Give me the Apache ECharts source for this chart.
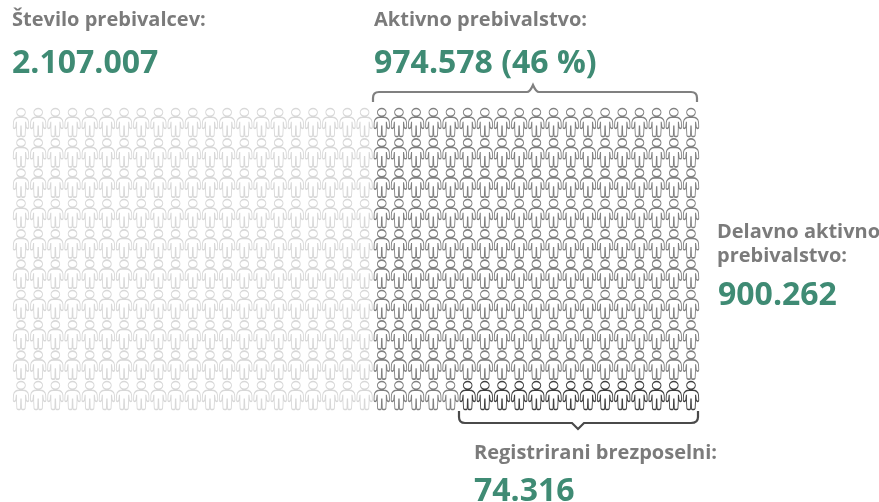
<!DOCTYPE html>
<html><head><meta charset="utf-8">
<style>html,body{margin:0;background:#fff}#c{width:879px;height:502px}</style>
<script src="https://cdn.jsdelivr.net/npm/echarts@6/dist/echarts.min.js"></script>
</head><body><div id="c"></div>
<script>
const columnCount = 40;
const rowCount = 10;
const inactiveColumns = 21;
const unemployedCells = 14;
const labels = ['Število prebivalcev:', 'Aktivno prebivalstvo:', 'Delavno aktivno', 'prebivalstvo:', 'Registrirani brezposelni:'];
const values = ['2.107.007', '974.578 (46 %)', '900.262', '74.316'];

const inactive = [], employed = [], unemployed = [];
for (let c = 0; c < columnCount; c++) {
  for (let r = 0; r < rowCount; r++) {
    if (c < inactiveColumns) inactive.push([c, r]);
    else if (r === 0 && c >= columnCount - unemployedCells) unemployed.push([c, r]);
    else employed.push([c, r]);
  }
}
const person = 'path://M16 0C21 0 25 3.500 25 8C25 12.500 21 16 16 16C11 16 7 12.500 7 8C7 3.500 11 0 16 0ZM12 18H20C26 18 31 22 31.500 28L32 39C32 42 27.500 42 27 39L25.800 29H25.300V40L24.500 56Q24 58 22 58H18.500Q17 58 17 56L16.500 37H15.500L15 56Q15 58 13.500 58H10Q8 58 7.500 56L6.700 40V29H6.200L5 39C4.500 42 0 42 0 39L.5 28C1 22 6 18 12 18Z';
const series = (data, color) => ({
  type: 'scatter', data, symbol: person, symbolSize: [15.5, 28], silent: true,
  itemStyle: { color: '#fff', borderColor: color, borderWidth: 1.2, opacity: 1 }
});
const label = (x, y, text) => ({ type: 'text', left: x, top: y, silent: true,
  style: { text, fill: '#7b7b7b', font: 'bold 20px "Open Sans"' } });
const value = (x, y, text) => ({ type: 'text', left: x, top: y, silent: true,
  style: { text, fill: '#3f8b74', font: 'bold 32px "Open Sans"' } });
echarts.graphic.registerShape('bracketTop', echarts.graphic.extendPath('M373 102V98Q373 92 379 92H527Q530 92 533 85Q536 92 539 92H691Q697 92 697 98V102', {}));
echarts.graphic.registerShape('bracketBottom', echarts.graphic.extendPath('M459 411V417Q459 423 465 423H572L578 429L584 423H691Q698 423 698 417V411', {}));
const bracket = (type, stroke) => ({ type, silent: true, style: { fill: 'none', stroke, lineWidth: 2.2 } });

const chart = echarts.init(document.getElementById('c'), null, { renderer: 'canvas' });
chart.setOption({
  animation: false, backgroundColor: '#fff',
  grid: { left: 21, right: 188, top: 122.5, bottom: 106.5 },
  xAxis: { type: 'value', min: 0, max: columnCount - 1, show: false },
  yAxis: { type: 'value', min: 0, max: rowCount - 1, show: false },
  series: [series(inactive, '#d8d8d8'), series(employed, '#808080'), series(unemployed, '#3f3f3f')],
  graphic: [
    label(12, 10, labels[0]), value(12, 48, values[0]),
    label(374, 10, labels[1]), value(374, 48, values[1]),
    label(717, 222, labels[2]), label(717, 246, labels[3]), value(718, 280, values[2]),
    label(474, 443, labels[4]), value(474, 476, values[3]),
    bracket('bracketTop', '#808080'),
    bracket('bracketBottom', '#4a4a4a')
  ]
});
</script></body></html>
